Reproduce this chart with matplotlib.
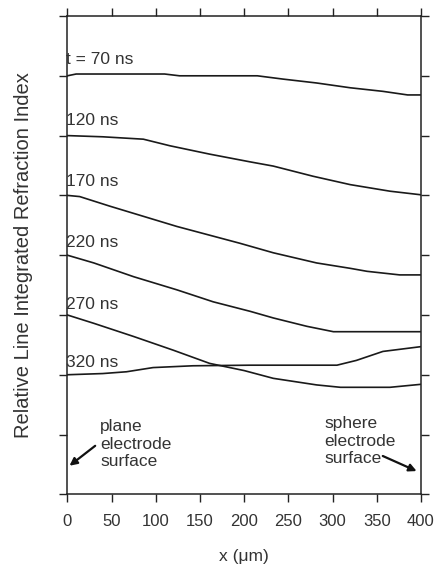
import matplotlib
matplotlib.use("Agg")
import matplotlib.pyplot as plt

plt.rcParams['font.family'] = ['Liberation Sans', 'DejaVu Sans']

# line integrated refraction index profiles across the gap, one per delay
x_70 = [0, 10, 110, 127, 215, 244, 282, 320, 357, 385, 400]
n_70 = [7.0, 7.03, 7.03, 7.0, 7.0, 6.945, 6.88, 6.80, 6.74, 6.68, 6.68]

x_120 = [0, 40, 86, 116, 161, 207, 233, 278, 320, 365, 400]
n_120 = [6.0, 5.98, 5.94, 5.83, 5.69, 5.56, 5.49, 5.32, 5.18, 5.07, 5.01]

x_170 = [0, 14, 48, 86, 124, 195, 233, 282, 320, 339, 376, 400]
n_170 = [5.0, 4.98, 4.82, 4.65, 4.48, 4.20, 4.04, 3.87, 3.78, 3.73, 3.67, 3.67]

x_220 = [0, 30, 75, 124, 165, 207, 233, 271, 301, 400]
n_220 = [4.0, 3.87, 3.64, 3.42, 3.22, 3.06, 2.95, 2.81, 2.72, 2.72]

x_270 = [0, 30, 75, 120, 161, 200, 233, 282, 309, 365, 400]
n_270 = [3.0, 2.86, 2.64, 2.41, 2.19, 2.07, 1.94, 1.83, 1.79, 1.79, 1.84]

x_320 = [0, 40, 67, 97, 142, 207, 252, 305, 327, 357, 400]
n_320 = [2.0, 2.02, 2.05, 2.12, 2.15, 2.16, 2.16, 2.16, 2.24, 2.39, 2.47]

curves = [(x_70, n_70), (x_120, n_120), (x_170, n_170),
          (x_220, n_220), (x_270, n_270), (x_320, n_320)]
labels = ['t = 70 ns', '120 ns', '170 ns', '220 ns', '270 ns', '320 ns']
label_y = [7.28, 6.25, 5.23, 4.22, 3.18, 2.2]

x_ticks = [0, 50, 100, 150, 200, 250, 300, 350, 400]

txt = '#333333'
fs = 12.5

fig = plt.figure(figsize=(4.38, 5.68), dpi=100)
ax = fig.add_axes([0.1537, 0.1297, 0.8073, 0.8421])

for (xs, ys) in curves:
    ax.plot(xs, ys, color='#1a1a1a', lw=1.2)

for lab, ly in zip(labels, label_y):
    ax.text(-1, ly, lab, fontsize=fs, color=txt, ha='left', va='center')

ax.set_xlim(0, 400)
ax.set_ylim(0, 8)
ax.set_xticks(x_ticks)
ax.set_yticks(range(0, 9))
ax.set_yticklabels([])
ax.tick_params(direction='out', length=5.5, width=1, colors='#222222',
               labelcolor=txt, labelsize=12, pad=9,
               top=True, right=True)
for s in ax.spines.values():
    s.set_linewidth(1.1)
    s.set_color('#222222')

ax.set_xlabel('x (\u03bcm)', fontsize=fs, color=txt, labelpad=14)
ax.set_ylabel('Relative Line Integrated Refraction Index', fontsize=14.5,
              color=txt, labelpad=10)

# electrode surface notes
ax.annotate('', xy=(0, 0.45), xytext=(34, 0.84),
            arrowprops=dict(arrowstyle='-|>', color='#111111', lw=1.6,
                            mutation_scale=11))
ax.text(37, 0.84, 'plane\nelectrode\nsurface', fontsize=fs, color=txt,
        ha='left', va='center', linespacing=1.2)
ax.annotate('', xy=(398, 0.37), xytext=(354, 0.66),
            arrowprops=dict(arrowstyle='-|>', color='#111111', lw=1.6,
                            mutation_scale=11))
ax.text(291, 0.89, 'sphere\nelectrode\nsurface', fontsize=fs, color=txt,
        ha='left', va='center', linespacing=1.2)

fig.savefig('out.png', dpi=100)
